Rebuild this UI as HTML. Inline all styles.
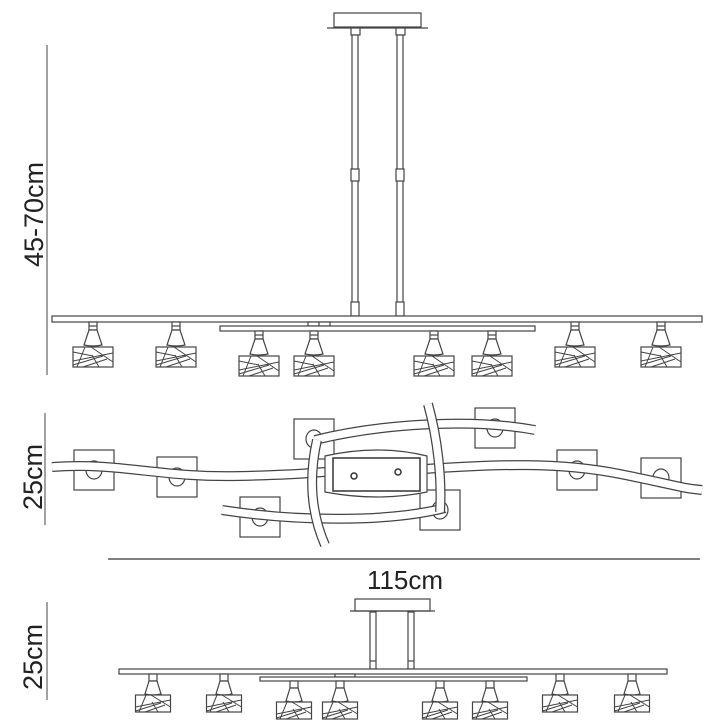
<!DOCTYPE html>
<html><head><meta charset="utf-8"><style>
html,body{margin:0;padding:0;background:#fff;width:720px;height:720px;overflow:hidden}
svg{display:block}
text{font-family:"Liberation Sans",sans-serif;fill:#222}
</style></head><body>
<svg width="720" height="720" viewBox="0 0 720 720" xmlns="http://www.w3.org/2000/svg">
<defs>
<g id="lamp" fill="#fff" stroke="#444" stroke-width="1.2">
<rect x="-4" y="0" width="8" height="8"/>
<line x1="-4" y1="4" x2="4" y2="4"/>
<path d="M-4,8 L-9,23 Q0,25 9,23 L4,8 Z"/>
<rect x="-20" y="25" width="40" height="20"/>
<path d="M-16,45 L-8,25 M-20,39 L20,31 M-20,43 L10,34 M-2,25 L20,40 M6,45 L-1,33 M-20,30 L0,34 M-10,45 L14,37" fill="none" stroke-width="1"/>
</g>
<g id="lampS" fill="#fff" stroke="#444" stroke-width="1.2">
<rect x="-4" y="0" width="8" height="7"/>
<path d="M-4,7 L-8,20 Q0,22 8,20 L4,7 Z"/>
<rect x="-17.5" y="21" width="35" height="17"/>
<path d="M-14,38 L-7,21 M-17.5,33 L17.5,26 M-17.5,37 L8,29 M-2,21 L17.5,33 M5,38 L-1,28 M-8,38 L12,31" fill="none" stroke-width="1"/>
</g>
<g id="sq" fill="#fff" stroke="#444" stroke-width="1.2">
<rect x="-20" y="-20" width="40" height="40"/>
<ellipse cx="0" cy="0" rx="8" ry="9"/>
</g>
</defs>

<!-- TOP VIEW -->
<g stroke="#444" stroke-width="1.2" fill="#fff">
<line x1="47" y1="45" x2="47" y2="375" stroke-width="1"/>
<rect x="334" y="13" width="87" height="14"/>
<line x1="327" y1="28" x2="428" y2="28"/>
<rect x="351" y="28" width="9" height="7"/>
<rect x="396" y="28" width="9" height="7"/>
<rect x="352" y="35" width="6" height="277"/>
<rect x="397" y="35" width="6" height="277"/>
<rect x="351" y="169" width="8" height="12"/>
<rect x="396" y="169" width="8" height="12"/>
<rect x="351" y="302" width="8" height="14"/>
<rect x="396" y="302" width="8" height="14"/>
<rect x="52" y="316" width="650" height="6"/>
<rect x="308" y="322" width="22" height="4"/>
<line x1="319" y1="322" x2="319" y2="326"/>
<rect x="220" y="326" width="315" height="5"/>
</g>
<use href="#lamp" x="93" y="322"/>
<use href="#lamp" x="176" y="322"/>
<use href="#lamp" x="259" y="331"/>
<use href="#lamp" x="314" y="331"/>
<use href="#lamp" x="434" y="331"/>
<use href="#lamp" x="492" y="331"/>
<use href="#lamp" x="575" y="322"/>
<use href="#lamp" x="661" y="322"/>
<text x="0" y="0" font-size="27" transform="translate(43,267) rotate(-90)">45-70cm</text>

<!-- MIDDLE VIEW -->
<line x1="45" y1="413" x2="45" y2="525" stroke="#444"/>
<text x="0" y="0" font-size="27" transform="translate(42,510) rotate(-90)">25cm</text>
<line x1="108" y1="559" x2="700" y2="559" stroke="#555" stroke-width="1.5"/>
<text x="405" y="589" font-size="26" text-anchor="middle">115cm</text>

<use href="#sq" x="94" y="470"/>
<use href="#sq" x="177" y="477"/>
<use href="#sq" x="314" y="439"/>
<use href="#sq" x="495" y="428"/>
<use href="#sq" x="577" y="470"/>
<use href="#sq" x="661" y="478"/>
<use href="#sq" x="260" y="517"/>
<use href="#sq" x="440" y="510"/>

<g fill="none" stroke-linecap="butt">
<path d="M52,467 C120,462 160,478 240,476 S310,472 330,472" stroke="#444" stroke-width="10"/>
<path d="M52,467 C120,462 160,478 240,476 S310,472 330,472" stroke="#fff" stroke-width="7.5"/>
<path d="M425,469 C500,464 560,462 620,474 S680,488 702,490" stroke="#444" stroke-width="10"/>
<path d="M425,469 C500,464 560,462 620,474 S680,488 702,490" stroke="#fff" stroke-width="7.5"/>
<path d="M315,440 C380,424 470,418 535,430" stroke="#444" stroke-width="10"/>
<path d="M315,440 C380,424 470,418 535,430" stroke="#fff" stroke-width="7.5"/>
<path d="M222,510 C300,522 390,522 445,508" stroke="#444" stroke-width="10"/>
<path d="M222,510 C300,522 390,522 445,508" stroke="#fff" stroke-width="7.5"/>
<path d="M317,440 C308,480 312,515 325,545" stroke="#444" stroke-width="10"/>
<path d="M317,440 C308,480 312,515 325,545" stroke="#fff" stroke-width="7.5"/>
<path d="M428,404 C438,440 442,480 440,512" stroke="#444" stroke-width="10"/>
<path d="M428,404 C438,440 442,480 440,512" stroke="#fff" stroke-width="7.5"/>
</g>
<path d="M325,456 Q378,444 427,456 L427,492 Q378,502 325,492 Z" fill="#fff" stroke="#444" stroke-width="1.2"/>
<rect x="333" y="458" width="87" height="33" fill="#fff" stroke="#333" stroke-width="1.5"/>
<circle cx="354" cy="476" r="3" fill="none" stroke="#333" stroke-width="1.5"/>
<circle cx="398" cy="472" r="3" fill="none" stroke="#333" stroke-width="1.5"/>

<!-- BOTTOM VIEW -->
<line x1="47" y1="602" x2="47" y2="700" stroke="#444"/>
<text x="0" y="0" font-size="27" transform="translate(42,690) rotate(-90)">25cm</text>
<g stroke="#444" stroke-width="1.2" fill="#fff">
<rect x="355" y="599" width="75" height="12"/>
<line x1="350" y1="611" x2="435" y2="611"/>
<rect x="370" y="612" width="6" height="57"/>
<rect x="408" y="612" width="6" height="57"/>
<line x1="370" y1="661" x2="376" y2="661"/>
<line x1="408" y1="661" x2="414" y2="661"/>
<rect x="119" y="669" width="548" height="5"/>
<rect x="335" y="674" width="20" height="3"/>
<rect x="260" y="677" width="267" height="4"/>
</g>
<use href="#lampS" x="153" y="674"/>
<use href="#lampS" x="224" y="674"/>
<use href="#lampS" x="294" y="681"/>
<use href="#lampS" x="340" y="681"/>
<use href="#lampS" x="440" y="681"/>
<use href="#lampS" x="490" y="681"/>
<use href="#lampS" x="560" y="674"/>
<use href="#lampS" x="632" y="674"/>
</svg>
</body></html>
